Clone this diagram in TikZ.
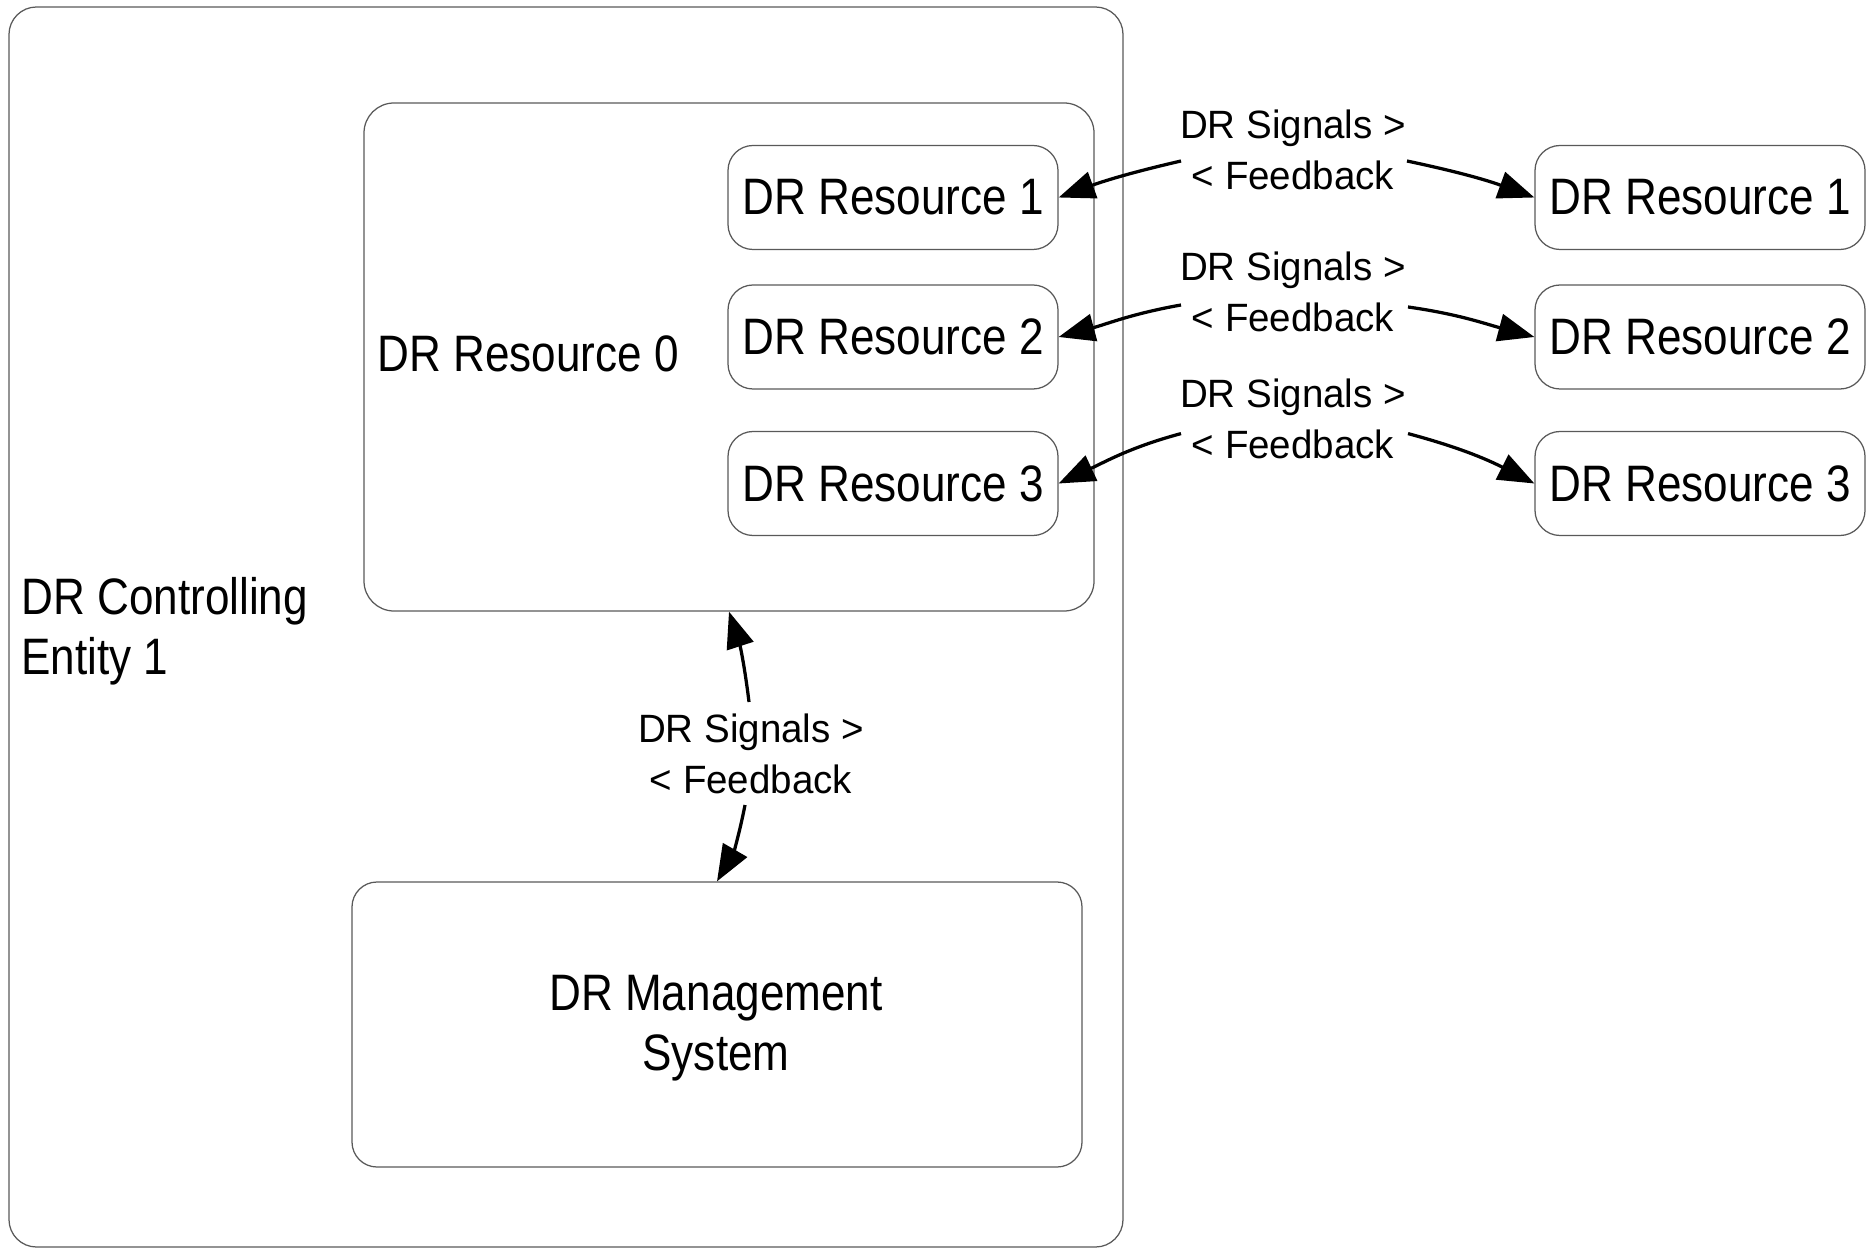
\documentclass[tikz,border=0pt]{standalone}
\usepackage{fontspec}
\setmainfont{Liberation Sans}
\newfontfamily\bigf[FakeStretch=0.86]{Liberation Sans}
\newfontfamily\smallf[FakeStretch=0.975]{Liberation Sans}
\usetikzlibrary{arrows.meta,calc}
\begin{document}
\begin{tikzpicture}[x=0.4pt,y=0.4pt,
 box/.style={draw=black!65, line width=0.5pt, rounded corners=10pt, inner sep=0pt},
 bigtext/.style={font=\bigf\fontsize{20.5pt}{24pt}\selectfont, inner sep=0pt},
 lab/.style={font=\smallf\fontsize{15.8pt}{20.4pt}\selectfont, inner sep=0pt, align=center, anchor=north},
 res/.style={box, bigtext, minimum width=132pt, minimum height=41.6pt},
 arr/.style={-{Triangle[length=14.5pt,width=11pt]}, line width=1.3pt}]
\useasboundingbox (0,0) rectangle (1871,-1250);
% containers
\node[box, rounded corners=11pt, minimum width=445.6pt, minimum height=496pt] (ent) at (566,-627) {};
\node[box, rounded corners=12pt, minimum width=292pt, minimum height=203.2pt] (r0) at (729,-357) {};
\node[box, minimum width=292pt, minimum height=114pt] (mgmt) at (717,-1024.5) {};
% container texts
\node[bigtext, anchor=north west, align=left] (entlab) at (21,-577) {DR Controlling\\Entity 1};
\node[bigtext, anchor=west] (r0lab) at (377,-354) {DR Resource 0};
\node[bigtext, anchor=north, align=center] (mgmtlab) at (716,-974.5) {DR Management\\System};
% inner resources
\node[res] (i1) at (893,-197.5) {DR Resource 1};
\node[res] (i2) at (893,-337) {DR Resource 2};
\node[res] (i3) at (893,-483.5) {DR Resource 3};
% outer resources
\node[res] (o1) at (1700,-197.5) {DR Resource 1};
\node[res] (o2) at (1700,-337) {DR Resource 2};
\node[res] (o3) at (1700,-483.5) {DR Resource 3};
% labels
\node[lab] (l1) at (1293,-109) {DR Signals >\\< Feedback};
\node[lab] (l2) at (1293,-251) {DR Signals >\\< Feedback};
\node[lab] (l3) at (1293,-378.6) {DR Signals >\\< Feedback};
\node[lab] (l4) at (751,-713) {DR Signals >\\< Feedback};
% arrows
\draw[arr] ($(l1.north)+(-112,-52)$) to[out=193,in=20] (i1.east);
\draw[arr] ($(l1.north)+(114,-52)$) to[out=-12,in=160] (o1.west);
\draw[arr] ($(l2.north)+(-112,-54)$) to[out=190,in=15] (i2.east);
\draw[arr] ($(l2.north)+(115,-56)$) to[out=-8,in=165] (o2.west);
\draw[arr] ($(l3.north)+(-112,-55)$) to[out=195,in=25] (i3.east);
\draw[arr] ($(l3.north)+(115,-55)$) to[out=-15,in=153] (o3.west);
\draw[arr] ($(l4.north)+(-2,11)$) to[out=97,in=-72] (r0.south);
\draw[arr] ($(l4.north)+(-6,-92)$) to[out=259,in=60] (mgmt.north);
\end{tikzpicture}
\end{document}
